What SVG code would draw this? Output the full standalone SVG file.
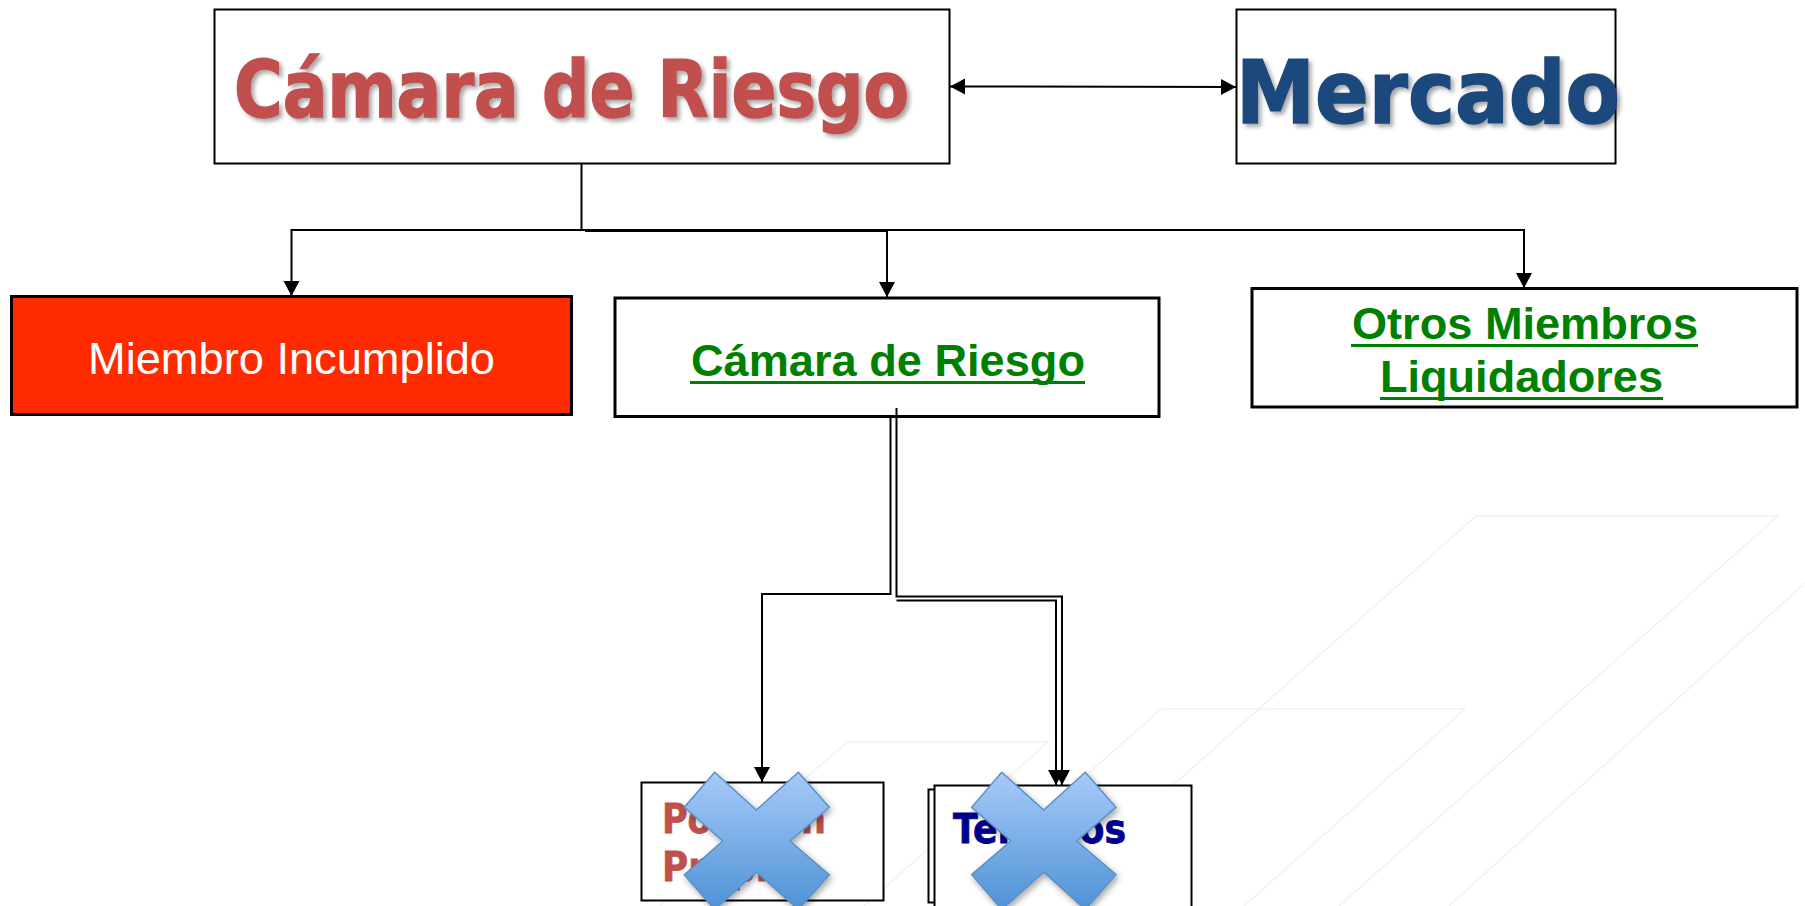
<svg xmlns="http://www.w3.org/2000/svg" width="1805" height="906" viewBox="0 0 1805 906">
<style>
.box{fill:#fff;stroke:#000;stroke-width:2}
.thick{stroke-width:3}
.conn{fill:none;stroke:#000;stroke-width:2}
.bg{fill:none;stroke:#f2f2f2;stroke-width:1.5}
.dj{font-family:"DejaVu Sans",Verdana,sans-serif;font-weight:700}
.lib{font-family:"Liberation Sans",Arial,sans-serif}
.green{font-weight:700;font-size:45px;fill:#008000}
.ul{fill:none;stroke:#008000;stroke-width:3}
.red{fill:#c0504d}
.cross{fill:url(#crossGrad);stroke:#5b90c2;stroke-width:1.5;filter:url(#crossShadow)}
</style>
<defs>
<marker id="arr" markerUnits="userSpaceOnUse" markerWidth="16" markerHeight="18" refX="15" refY="9" orient="auto-start-reverse"><path d="M0 1L15 9L0 17Z" fill="#000"/></marker>
<linearGradient id="crossGrad" x1="0" y1="0" x2="0" y2="1"><stop offset="0" stop-color="#a6caf9"/><stop offset="1" stop-color="#4f92d6"/></linearGradient>
<filter id="crossShadow" x="-20%" y="-20%" width="140%" height="140%"><feDropShadow dx="2" dy="3" stdDeviation="3" flood-color="#000" flood-opacity="0.35"/></filter>
<filter id="textShadow" x="-5%" y="-10%" width="110%" height="125%"><feDropShadow dx="3" dy="3" stdDeviation="2" flood-color="#000" flood-opacity="0.35"/></filter>
</defs>
<rect width="1805" height="906" fill="#fff"/>
<g id="background">
<path class="bg" d="M1037 906L1476 516H1778L1339 906"/>
<path class="bg" d="M939 906L1161 709H1465L1244 906"/>
<path class="bg" d="M1805 583L1449 906"/>
<path class="bg" d="M660 906L847 742H1048L864 906"/>
</g>
<g id="node-camara-top">
<rect class="box" x="214.500" y="9.500" width="735" height="154"/>
<text class="dj red" x="234" y="117" font-size="78" stroke="#c0504d" stroke-width="1.500" textLength="675" lengthAdjust="spacingAndGlyphs" filter="url(#textShadow)">Cámara de Riesgo</text>
</g>
<g id="node-mercado">
<rect class="box" x="1236.500" y="9.500" width="379" height="154"/>
<text class="dj" x="1236" y="123" font-size="87" fill="#1f497d" stroke="#1f497d" stroke-width="1.500" textLength="384" lengthAdjust="spacingAndGlyphs" filter="url(#textShadow)">Mercado</text>
</g>
<g id="node-incumplido">
<rect class="box thick" x="11.500" y="296.500" width="560" height="118" style="fill:#ff2a00"/>
<text class="lib" x="88" y="374" font-size="44" fill="#fff" textLength="407" lengthAdjust="spacingAndGlyphs">Miembro Incumplido</text>
</g>
<g id="node-camara">
<rect class="box thick" x="615" y="298" width="544" height="118.500"/>
<path class="ul" d="M690 382.500H1085"/>
<text class="lib green" x="691" y="376" textLength="394" lengthAdjust="spacingAndGlyphs">Cámara de Riesgo</text>
</g>
<g id="node-otros">
<rect class="box thick" x="1252" y="288.500" width="545" height="118.500"/>
<path class="ul" d="M1351 345.500H1698M1380 398.500H1663"/>
<text class="lib green" x="1352" y="339" textLength="346" lengthAdjust="spacingAndGlyphs">Otros Miembros</text>
<text class="lib green" x="1380" y="392" textLength="283" lengthAdjust="spacingAndGlyphs">Liquidadores</text>
</g>
<g id="node-posicion">
<rect class="box" x="641.500" y="782.500" width="242" height="118"/>
<text class="dj red" x="662" y="833" font-size="40" stroke="#c0504d" stroke-width="0.800" textLength="164" lengthAdjust="spacingAndGlyphs">Posición</text>
<text class="dj red" x="662" y="881" font-size="40" stroke="#c0504d" stroke-width="0.800" textLength="130" lengthAdjust="spacingAndGlyphs">Propia</text>
</g>
<g id="node-terceros">
<path d="M934 789.500H928.500V902.500H934" fill="#fff" stroke="#000" stroke-width="2"/>
<rect class="box" x="934.500" y="785.500" width="257" height="130"/>
<text class="dj" x="953" y="843" font-size="40" fill="#00008f" stroke="#00008f" stroke-width="0.800" textLength="173" lengthAdjust="spacingAndGlyphs">Terceros</text>
</g>
<g id="connectors">
<path class="conn" d="M950 86.500L1236 87" marker-start="url(#arr)" marker-end="url(#arr)"/>
<path class="conn" d="M581.500 164V230H291.500V296" marker-end="url(#arr)"/>
<path class="conn" d="M585 231H887V297" marker-end="url(#arr)"/>
<path class="conn" d="M581.500 230H1524V288" marker-end="url(#arr)"/>
<path class="conn" d="M890.500 417V594H762V782" marker-end="url(#arr)"/>
<path class="conn" d="M896.500 408V596.500H1062V785" marker-end="url(#arr)"/>
<path class="conn" d="M896.500 600.500H1056V785" marker-end="url(#arr)"/>
</g>
<g id="cross-1">
<path class="cross" d="M714.700 772.300L756.300 810L798.300 772.300L829.300 807.300L790 841L829.300 874.700L798.300 909.700L756.300 872L714.700 909.700L684.300 874.700L722.700 841L684.300 807.300Z"/>
</g>
<g id="cross-2">
<path class="cross" d="M1001.700 772.300L1043.700 810L1085.300 772.300L1116 807.300L1076.700 841L1116 874.700L1085.300 909.700L1043.700 872L1001.700 909.700L971.700 874.700L1010.700 841L971.700 807.300Z"/>
</g>
</svg>
